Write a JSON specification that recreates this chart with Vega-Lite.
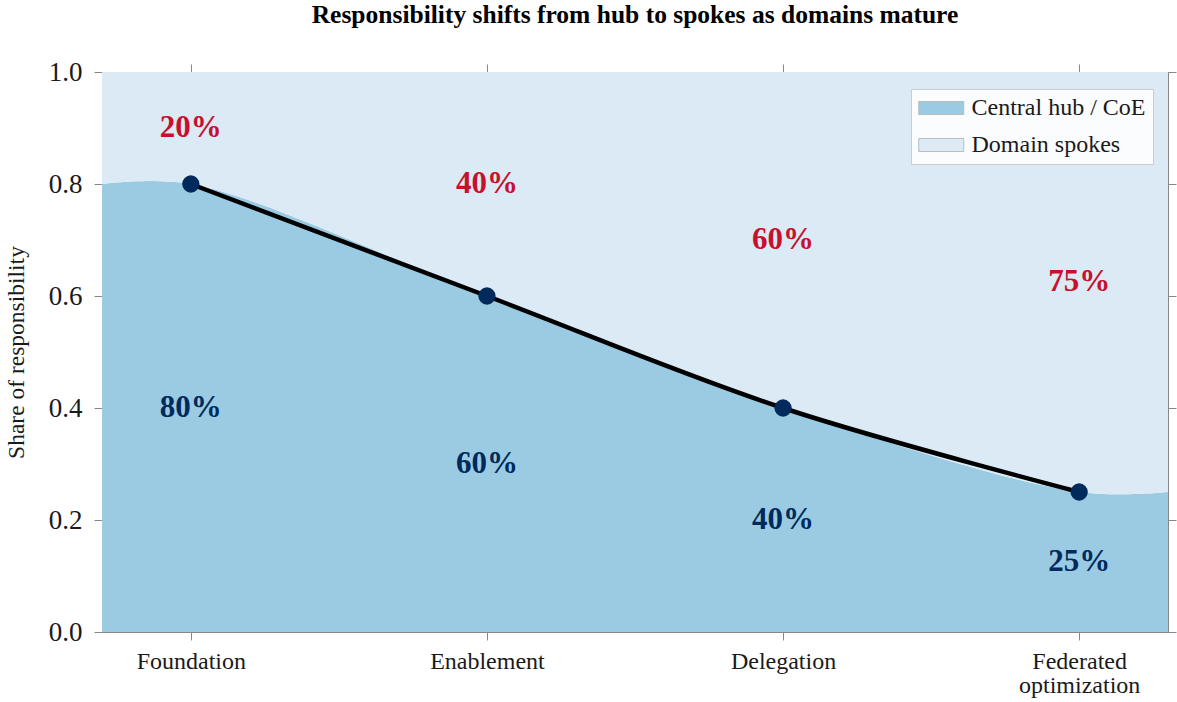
{
  "$schema": "https://vega.github.io/schema/vega-lite/v6.json",
  "autosize": {"type": "none"},
  "width": 1066,
  "height": 560,
  "padding": {"left": 102, "top": 72, "right": 9, "bottom": 70},
  "background": "white",
  "title": {
    "text": "Responsibility shifts from hub to spokes as domains mature",
    "font": "Liberation Serif",
    "fontSize": 25.5,
    "fontWeight": "bold",
    "color": "black",
    "anchor": "middle",
    "offset": 30
  },
  "config": {
    "view": {"stroke": "#888888", "strokeWidth": 1},
    "axis": {
      "grid": false,
      "domainColor": "#888888",
      "tickColor": "#888888",
      "tickSize": 8,
      "labelFont": "Liberation Serif",
      "labelColor": "#1a1a1a",
      "titleFont": "Liberation Serif",
      "titleColor": "#1a1a1a",
      "titleFontWeight": "normal"
    },
    "legend": {
      "labelFont": "Liberation Serif",
      "labelFontSize": 24,
      "labelColor": "#1a1a1a",
      "labelLimit": 400
    }
  },
  "datasets": {
    "areaRows": [
      {"series": "Central hub / CoE", "x": -0.3, "lo": 0, "hi": 0.8},
      {"series": "Central hub / CoE", "x": 0, "lo": 0, "hi": 0.8},
      {"series": "Central hub / CoE", "x": 1, "lo": 0, "hi": 0.6},
      {"series": "Central hub / CoE", "x": 2, "lo": 0, "hi": 0.4},
      {"series": "Central hub / CoE", "x": 3, "lo": 0, "hi": 0.25},
      {"series": "Central hub / CoE", "x": 3.3, "lo": 0, "hi": 0.25},
      {"series": "Domain spokes", "x": -0.3, "lo": 0.8, "hi": 1},
      {"series": "Domain spokes", "x": 0, "lo": 0.8, "hi": 1},
      {"series": "Domain spokes", "x": 1, "lo": 0.6, "hi": 1},
      {"series": "Domain spokes", "x": 2, "lo": 0.4, "hi": 1},
      {"series": "Domain spokes", "x": 3, "lo": 0.25, "hi": 1},
      {"series": "Domain spokes", "x": 3.3, "lo": 0.25, "hi": 1}
    ],
    "stages": [
      {"stage": "Foundation", "x": 0, "hub": 0.8, "hubLabel": "80%", "spokeLabel": "20%"},
      {"stage": "Enablement", "x": 1, "hub": 0.6, "hubLabel": "60%", "spokeLabel": "40%"},
      {"stage": "Delegation", "x": 2, "hub": 0.4, "hubLabel": "40%", "spokeLabel": "60%"},
      {"stage": "Federated optimization", "x": 3, "hub": 0.25, "hubLabel": "25%", "spokeLabel": "75%"}
    ]
  },
  "resolve": {"axis": {"x": "independent", "y": "independent"}},
  "layer": [
    {
      "data": {"name": "areaRows"},
      "mark": {"type": "area", "interpolate": "catmull-rom", "clip": true},
      "encoding": {
        "x": {
          "field": "x", "type": "quantitative",
          "scale": {"domain": [-0.3, 3.3], "nice": false, "zero": false},
          "axis": {
            "orient": "bottom",
            "values": [0, 1, 2, 3],
            "title": null,
            "labelFontSize": 24,
            "labelPadding": 9,
            "labelLineHeight": 24,
            "labelBaseline": "top",
            "labelExpr": "datum.value == 0 ? 'Foundation' : datum.value == 1 ? 'Enablement' : datum.value == 2 ? 'Delegation' : ['Federated', 'optimization']"
          }
        },
        "y": {
          "field": "lo", "type": "quantitative",
          "scale": {"domain": [0, 1], "nice": false},
          "axis": {
            "orient": "left",
            "values": [0, 0.2, 0.4, 0.6, 0.8, 1.0],
            "format": ".1f",
            "labelFontSize": 27,
            "labelPadding": 12,
            "title": "Share of responsibility",
            "titleFontSize": 23.5,
            "titlePadding": 20
          }
        },
        "y2": {"field": "hi"},
        "color": {
          "field": "series", "type": "nominal",
          "scale": {"domain": ["Central hub / CoE", "Domain spokes"], "range": ["#9bcbe3", "#dbeaf4"]},
          "legend": {
            "title": null,
            "orient": "none",
            "legendX": 809,
            "legendY": 17,
            "fillColor": "rgba(255,255,255,0.85)",
            "strokeColor": "#cccccc",
            "padding": 7,
            "rowPadding": 13,
            "symbolType": "M-1,-0.58H3V0.58H-1Z",
            "symbolSize": 506,
            "symbolStrokeColor": "#bbbbbb",
            "symbolStrokeWidth": 1,
            "labelOffset": 29.5
          }
        }
      }
    },
    {
      "data": {"name": "stages"},
      "mark": {"type": "line", "interpolate": "catmull-rom", "color": "black", "strokeWidth": 4.5},
      "encoding": {
        "x": {"field": "x", "type": "quantitative", "axis": null},
        "y": {"field": "hub", "type": "quantitative", "axis": null}
      }
    },
    {
      "data": {"name": "stages"},
      "mark": {"type": "point", "filled": true, "opacity": 1, "color": "#002a5c", "size": 300},
      "encoding": {
        "x": {"field": "x", "type": "quantitative", "axis": {"orient": "top", "values": [0, 1, 2, 3], "labels": false, "title": null, "domain": false}},
        "y": {"field": "hub", "type": "quantitative", "axis": {"orient": "right", "values": [0, 0.2, 0.4, 0.6, 0.8, 1.0], "labels": false, "title": null, "domain": false}}
      }
    },
    {
      "data": {"name": "stages"},
      "transform": [{"calculate": "(1 + datum.hub) / 2", "as": "spokeMid"}],
      "mark": {"type": "text", "font": "Liberation Serif", "fontWeight": "bold", "fontSize": 31, "color": "#c8102e", "baseline": "middle", "align": "center"},
      "encoding": {
        "x": {"field": "x", "type": "quantitative", "axis": null},
        "y": {"field": "spokeMid", "type": "quantitative", "axis": null},
        "text": {"field": "spokeLabel"}
      }
    },
    {
      "data": {"name": "stages"},
      "transform": [{"calculate": "datum.hub / 2", "as": "hubMid"}],
      "mark": {"type": "text", "font": "Liberation Serif", "fontWeight": "bold", "fontSize": 31, "color": "#002a5c", "baseline": "middle", "align": "center"},
      "encoding": {
        "x": {"field": "x", "type": "quantitative", "axis": null},
        "y": {"field": "hubMid", "type": "quantitative", "axis": null},
        "text": {"field": "hubLabel"}
      }
    }
  ]
}
